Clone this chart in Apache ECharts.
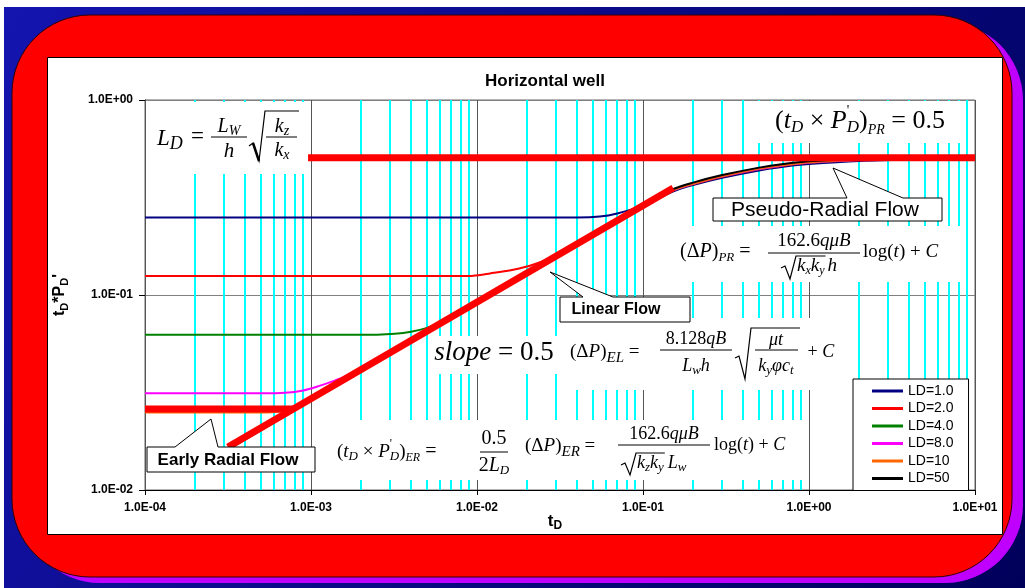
<!DOCTYPE html>
<html>
<head>
<meta charset="utf-8">
<script src="https://cdn.jsdelivr.net/npm/echarts@6/dist/echarts.min.js"></script>
<style>
  html, body { margin: 0; padding: 0; background: #fff; }
  #main { width: 1025px; height: 588px; }
</style>
</head>
<body>
<div id="main"></div>
<script>
// tick labels
const xTickLabels = ['1.0E-04', '1.0E-03', '1.0E-02', '1.0E-01', '1.0E+00', '1.0E+01'];
const yTickLabels = ['1.0E-02', '1.0E-01', '1.0E+00'];
const majorX = [1e-4, 1e-3, 1e-2, 1e-1, 1, 10];
const minorSteps = [2, 3, 4, 5, 6, 7, 8, 9];

// series (tD, tD*PD')
const seriesNames = ['LD=1.0', 'LD=2.0', 'LD=4.0', 'LD=8.0', 'LD=10', 'LD=50'];
const ld1 = [[1e-4,0.25],[1e-3,0.25],[1e-2,0.25],[0.04,0.25],[0.05,0.251],[0.06,0.255],[0.07,0.262],[0.08,0.27],[0.1,0.287],[0.15,0.338],[0.2,0.366],[0.3,0.399],[0.5,0.435],[0.7,0.454],[1,0.469],[2,0.487],[5,0.496],[10,0.499]];
const ld2 = [[1e-4,0.125],[1e-3,0.125],[0.008,0.125],[0.0095,0.1255],[0.012,0.129],[0.016,0.134],[0.02,0.14],[0.025,0.149],[0.03,0.158],[0.05,0.203],[0.07,0.24],[0.1,0.287],[0.15,0.342],[0.2,0.37],[0.3,0.404],[0.5,0.441],[0.7,0.46],[1,0.476],[2,0.491],[5,0.498],[10,0.5]];
const ld4 = [[1e-4,0.0625],[1e-3,0.0625],[0.0025,0.0626],[0.0032,0.0632],[0.004,0.0648],[0.005,0.0678],[0.0065,0.0738],[0.01,0.0908],[0.02,0.128],[0.05,0.203],[0.1,0.287],[0.15,0.343],[0.2,0.371],[0.3,0.406],[0.5,0.443],[0.7,0.462],[1,0.478],[2,0.493],[5,0.499],[10,0.5]];
const ld8 = [[1e-4,0.0313],[5e-4,0.0313],[7e-4,0.0315],[9e-4,0.0324],[0.0011,0.034],[0.0014,0.0365],[0.002,0.0412],[0.003,0.0497],[0.005,0.0642],[0.01,0.0908],[0.02,0.128],[0.05,0.203],[0.1,0.287],[0.15,0.343],[0.2,0.371],[0.3,0.406],[0.5,0.443],[0.7,0.462],[1,0.478],[2,0.493],[5,0.499],[10,0.5]];
const ld10 = [[1e-4,0.025],[5e-4,0.025],[6.5e-4,0.0253],[8e-4,0.0264],[0.001,0.0288],[0.0015,0.0352],[0.002,0.0406],[0.005,0.0642],[0.01,0.0908],[0.02,0.128],[0.05,0.203],[0.1,0.287],[0.15,0.344],[0.2,0.372],[0.3,0.407],[0.5,0.445],[0.7,0.464],[1,0.48],[2,0.494],[5,0.499],[10,0.5]];
const ld50 = [[3.2e-4,0.0162],[5e-4,0.0203],[1e-3,0.0287],[0.002,0.0406],[0.005,0.0642],[0.01,0.0908],[0.02,0.128],[0.05,0.203],[0.1,0.289],[0.15,0.348],[0.2,0.377],[0.3,0.412],[0.5,0.45],[0.7,0.47],[1,0.485],[2,0.497],[5,0.5],[10,0.5]];

// thick flow-regime lines
const earlyRadial = [[1e-4,0.026],[7.8e-4,0.026]];
const linearFlow = [[3.16e-4,0.0166],[0.152,0.354]];
const pseudoRadial = [[9.6e-4,0.505],[10,0.505]];

const colors = ['#000080', '#ff0000', '#008000', '#ff00ff', '#ff6600', '#000000'];
const SANS = '"Liberation Sans", Arial, sans-serif';
const SERIF = '"Liberation Serif", "Times New Roman", serif';

// vertical grid: [t, kind] kind 0 = minor (cyan), 1 = decade
const gridX = [];
majorX.slice(0, 5).forEach(d => minorSteps.forEach(m => gridX.push([d * m, 0])));
majorX.forEach(d => gridX.push([d, 1]));

function tickText(labels, offset) {
  return v => {
    const e = Math.log10(v);
    return Math.abs(e - Math.round(e)) < 1e-6 ? (labels[Math.round(e) + offset] || '') : '';
  };
}

// text helpers for the equations
const ctx = document.createElement('canvas').getContext('2d');
function fnt(sz, it, sans, bold) {
  return (it ? 'italic ' : '') + (bold ? 'bold ' : '') + sz + 'px ' + (sans ? SANS : SERIF);
}
function run(x, y, parts, opt) {
  opt = opt || {};
  let w = 0;
  const ws = parts.map(p => {
    ctx.font = fnt(p[1], p[2], opt.sans, opt.bold);
    const m = p[4] ? 0 : ctx.measureText(p[0]).width;
    w += m;
    return m;
  });
  let cx = opt.center ? x - w / 2 : x;
  const els = parts.map((p, i) => {
    const el = {
      type: 'text', x: cx, y: y + (p[3] || 0), z: opt.z || 51, silent: true,
      style: { text: p[0], font: fnt(p[1], p[2], opt.sans, opt.bold), fill: '#000', align: 'left', verticalAlign: 'middle' }
    };
    cx += ws[i];
    return el;
  });
  return { els: els, end: cx };
}
function line(x1, y1, x2, y2, lw) {
  return { type: 'line', z: 51, silent: true, shape: { x1: x1, y1: y1, x2: x2, y2: y2 }, style: { stroke: '#000', lineWidth: lw || 1 } };
}
function poly(points, lw) {
  return { type: 'polyline', z: 51, silent: true, shape: { points: points }, style: { stroke: '#000', fill: null, lineWidth: lw || 1.2 } };
}
function bg(x, y, w, h) {
  return { type: 'rect', z: 50, silent: true, shape: { x: x, y: y, width: w, height: h }, style: { fill: '#fff' } };
}
function callout(points, text, cx, cy, size, bold) {
  return [
    { type: 'polygon', z: 60, silent: true, shape: { points: points }, style: { fill: '#fff', stroke: '#000', lineWidth: 1 } }
  ].concat(run(cx, cy, [[text, size, 0]], { center: true, sans: true, bold: bold, z: 61 }).els);
}

const g = [];
const add = a => a.forEach(e => g.push(e));

// backdrop
g.push({ type: 'rect', z: -10, silent: true, shape: { x: 4, y: 7, width: 1021, height: 581 },
  style: { fill: new echarts.graphic.LinearGradient(0, 0, 1, 1, [{ offset: 0, color: '#1414b0' }, { offset: 1, color: '#00005a' }]) } });
g.push({ type: 'rect', z: -9, silent: true, shape: { x: 22, y: 22, width: 1001, height: 561, r: 78 }, style: { fill: '#c000ff' } });
g.push({ type: 'rect', z: -8, silent: true, shape: { x: 12, y: 15, width: 1000, height: 562, r: 78 }, style: { fill: '#ff0000', stroke: '#300000', lineWidth: 1 } });
g.push({ type: 'rect', z: -7, silent: true, shape: { x: 47.5, y: 57.5, width: 955, height: 477 }, style: { fill: '#fff', stroke: '#000', lineWidth: 1 } });

// equation backgrounds
g.push(bg(150, 102, 155, 72), bg(756, 101, 208, 42), bg(670, 226, 295, 56), bg(429, 336, 133, 38), bg(565, 318, 285, 72), bg(330, 420, 478, 60));

// L_D = Lw/h sqrt(kz/kx)
add(run(157, 139, [['L', 23, 1], ['D', 18, 1, 5]]).els);
add(run(191, 137, [['=', 23, 0]]).els);
add(run(229, 127, [['L', 20, 1], ['W', 14, 1, 4]], { center: true }).els);
g.push(line(211, 137, 247, 137));
add(run(229, 151, [['h', 21, 1]], { center: true }).els);
g.push(poly([[249, 146], [253, 143], [259, 161], [265, 111], [299, 111]]));
g.push(line(253, 143, 259, 161, 2.5));
add(run(282, 127, [['k', 20, 1], ['z', 14, 1, 4]], { center: true }).els);
g.push(line(266, 137, 297, 137));
add(run(282, 151, [['k', 20, 1], ['x', 14, 1, 4]], { center: true }).els);

// (tD x PD')PR = 0.5
add(run(860, 121, [['(', 26, 0], ['t', 26, 1], ['D', 17, 1, 7], [' \u00d7 ', 26, 0], ['P', 26, 1], ["'", 14, 0, -10, 1], ['D', 17, 1, 7], [')', 26, 0], ['PR', 14, 1, 9], [' = 0.5', 26, 0]], { center: true }).els);

// (dP)PR
add(run(680, 252, [['(', 20, 0], ['\u0394', 20, 0], ['P', 20, 1], [')', 20, 0], ['PR', 13, 1, 6], [' =', 20, 0]]).els);
add(run(814, 241, [['162.6', 19, 0], ['q\u03bcB', 19, 1]], { center: true }).els);
g.push(line(768, 253, 860, 253));
let r1 = run(797, 266, [['k', 19, 1], ['x', 12, 1, 5], ['k', 19, 1], ['y', 12, 1, 5]]);
add(r1.els);
g.push(poly([[781, 268], [785, 266], [790, 279], [796, 256], [r1.end + 1, 256]]));
add(run(r1.end + 3, 266, [['h', 19, 1]]).els);
add(run(863, 252, [['log(', 19, 0], ['t', 19, 1], [') + ', 19, 0], ['C', 19, 1]]).els);

// slope = 0.5
add(run(494, 353, [['slope', 27, 1], [' = 0.5', 27, 0]], { center: true }).els);

// (dP)EL
add(run(570, 352, [['(', 19, 0], ['\u0394', 19, 0], ['P', 19, 1], [')', 19, 0], ['EL', 15, 1, 6], [' = ', 19, 0]]).els);
add(run(696, 339, [['8.128', 18, 0], ['qB', 18, 1]], { center: true }).els);
g.push(line(660, 350, 732, 350));
add(run(696, 366, [['L', 18, 1], ['w', 13, 1, 5], ['h', 18, 1]], { center: true }).els);
g.push(poly([[735, 358], [739, 356], [745, 379], [751, 328], [800, 328]]));
add(run(776, 340, [['\u03bct', 18, 1]], { center: true }).els);
g.push(line(755, 350, 798, 350));
add(run(776, 366, [['k', 18, 1], ['y', 13, 1, 5], ['\u03c6c', 18, 1], ['t', 13, 1, 5]], { center: true }).els);
add(run(803, 352, [[' + ', 18, 0], ['C', 18, 1]]).els);

// (tD x PD')ER = 0.5/2LD
add(run(337, 452, [['(', 19, 0], ['t', 19, 1], ['D', 13, 1, 5], [' \u00d7 ', 19, 0], ['P', 19, 1], ["'", 12, 0, -8, 1], ['D', 13, 1, 5], [')', 19, 0], ['ER', 12, 1, 6], [' = ', 20, 0]]).els);
add(run(494, 439, [['0.5', 20, 0]], { center: true }).els);
g.push(line(480, 452, 508, 452));
add(run(494, 466, [['2', 20, 0], ['L', 20, 1], ['D', 13, 1, 5]], { center: true }).els);

// (dP)ER
add(run(525, 446, [['(', 19, 0], ['\u0394', 19, 0], ['P', 19, 1], [')', 19, 0], ['ER', 15, 1, 6], [' = ', 19, 0]]).els);
add(run(664, 434, [['162.6', 18, 0], ['q\u03bcB', 18, 1]], { center: true }).els);
g.push(line(618, 445, 710, 445));
let r2 = run(637, 463, [['k', 18, 1], ['z', 13, 1, 5], ['k', 18, 1], ['y', 13, 1, 5]]);
add(r2.els);
g.push(poly([[621, 465], [625, 463], [630, 475], [636, 453], [r2.end + 1, 453]]));
add(run(r2.end + 4, 463, [['L', 18, 1], ['w', 13, 1, 5]]).els);
add(run(714, 445, [['log(', 18, 0], ['t', 18, 1], [') + ', 18, 0], ['C', 18, 1]]).els);

// callouts
add(callout([[713, 198], [847, 198], [833, 168], [903, 198], [942, 198], [942, 221], [713, 221]], 'Pseudo-Radial Flow', 825, 210, 21, false));
add(callout([[560, 297], [583, 297], [550, 272], [613, 297], [690, 297], [690, 322], [560, 322]], 'Linear Flow', 616, 310, 16, true));
add(callout([[147, 447], [175, 447], [211, 419], [218, 447], [315, 447], [315, 472], [147, 472]], 'Early Radial Flow', 228, 460, 17, true));

// axis names
add(run(555, 521, [['t', 17, 0], ['D', 12, 0, 5]], { center: true, sans: true, bold: true }).els);
g.push({ type: 'group', x: 60, y: 295, rotation: Math.PI / 2,
  children: run(0, 0, [['t', 16, 0], ['D', 11, 0, 5], ['*P', 16, 0], ['D', 11, 0, 5], ["'", 16, 0]], { center: true, sans: true, bold: true }).els });

const chart = echarts.init(document.getElementById('main'));
const curves = [ld1, ld2, ld4, ld8, ld10, ld50];
const series = curves.map((d, i) => ({
  name: seriesNames[i], type: 'line', data: d, symbol: 'none', showSymbol: false,
  smooth: 0.3, lineStyle: { color: colors[i], width: 2 }, itemStyle: { color: colors[i] }, z: 3, silent: true
}));
[earlyRadial, linearFlow, pseudoRadial].forEach((d, i) => series.push({
  name: 'flow' + i, type: 'line', data: d, symbol: 'none', showSymbol: false,
  lineStyle: { color: '#ff0000', width: 7, cap: 'butt' }, z: 5, silent: true
}));
// vertical gridlines (cyan minors, gray decades) and decade ticks
series.push({
  name: 'vgrid', type: 'custom', data: gridX, z: 1, silent: true, clip: false,
  renderItem: (params, api) => {
    const top = api.coord([api.value(0), 1]);
    const bot = api.coord([api.value(0), 0.01]);
    const major = api.value(1) === 1;
    const x = Math.round(top[0]) + (major ? 0.5 : 0);
    const children = [{ type: 'line', shape: { x1: x, y1: top[1], x2: x, y2: bot[1] },
      style: { stroke: major ? '#555555' : '#00ffff', lineWidth: major ? 1 : 2 } }];
    if (major) children.push({ type: 'line', shape: { x1: x, y1: bot[1], x2: x, y2: bot[1] + 5 }, style: { stroke: '#000', lineWidth: 1 } });
    return { type: 'group', children: children };
  }
});

chart.setOption({
  animation: false,
  title: {
    text: 'Horizontal well', left: 540, top: 68, textAlign: 'center',
    textStyle: { fontFamily: SANS, fontWeight: 'bold', fontSize: 17, color: '#000' }
  },
  grid: { left: 145, right: 50, top: 100, bottom: 98, show: true, borderColor: '#666', borderWidth: 1 },
  legend: {
    data: seriesNames, orient: 'vertical', left: 853, top: 379, selectedMode: false,
    backgroundColor: '#fff', borderColor: '#000', borderWidth: 1,
    padding: [5, 15, 5, 19], itemGap: 3.5, itemWidth: 31, itemHeight: 3, icon: 'rect',
    textStyle: { fontFamily: SANS, fontSize: 14, color: '#000', lineHeight: 14 }
  },
  xAxis: {
    type: 'log', logBase: 10, min: 1e-4, max: 10,
    axisLine: { lineStyle: { color: '#000' } },
    axisTick: { show: false },
    axisLabel: { formatter: tickText(xTickLabels, 4), fontFamily: SANS, fontWeight: 'bold', fontSize: 12, color: '#000', margin: 12 },
    splitLine: { show: false }
  },
  yAxis: {
    type: 'log', logBase: 10, min: 0.01, max: 1,
    axisLine: { lineStyle: { color: '#000' } },
    axisTick: { show: true, length: 6, lineStyle: { color: '#000' } },
    axisLabel: { formatter: tickText(yTickLabels, 2), fontFamily: SANS, fontWeight: 'bold', fontSize: 12, color: '#000', margin: 12 },
    splitLine: { show: true, lineStyle: { color: '#808080', width: 1 } }
  },
  series: series,
  graphic: g
});
</script>
</body>
</html>
